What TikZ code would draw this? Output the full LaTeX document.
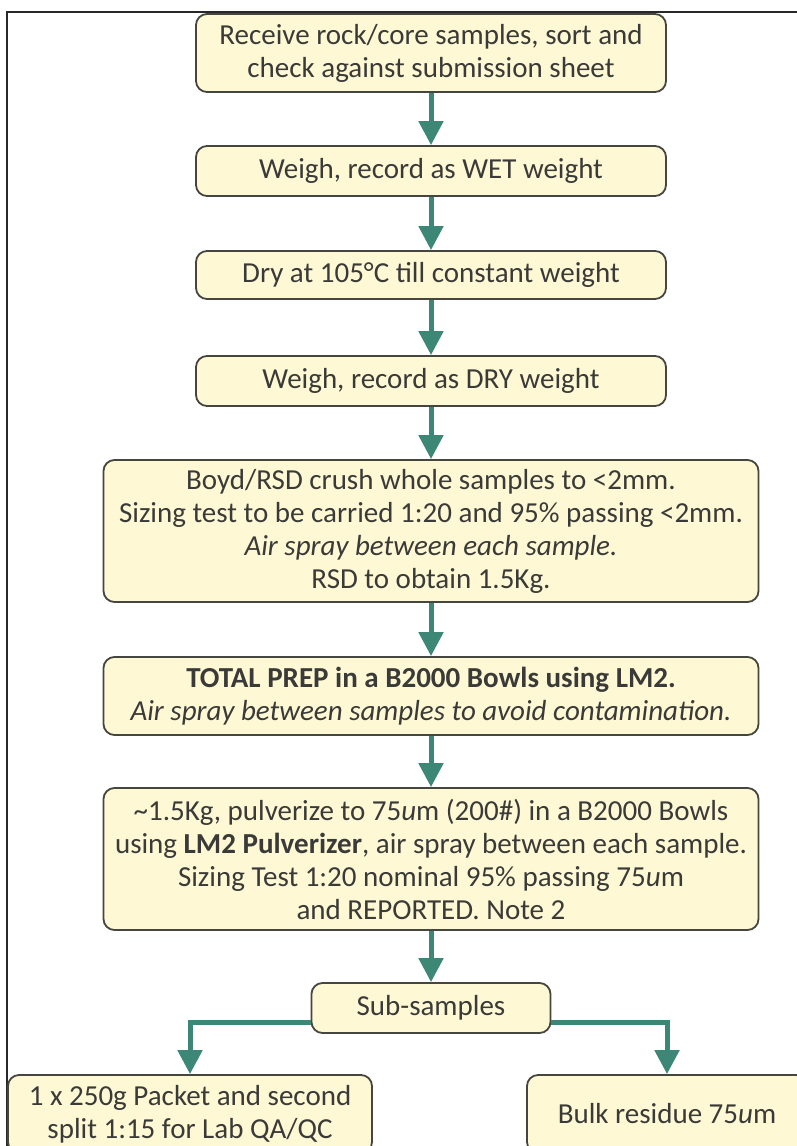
\documentclass[tikz,border=0pt]{standalone}
\usepackage{fontspec}
\setmainfont{Carlito}
\usetikzlibrary{arrows.meta}
\definecolor{boxfill}{RGB}{254,248,212}
\definecolor{boxline}{RGB}{70,70,64}
\definecolor{txtcol}{RGB}{58,58,56}
\definecolor{arrcol}{RGB}{60,135,118}
\definecolor{framecol}{RGB}{40,40,40}
\tikzset{
  stepbox/.style={draw=boxline, fill=boxfill, line width=1.8pt, rounded corners=11pt,
    align=center, inner sep=0pt, text=txtcol, font=\fontsize{29}{33}\selectfont},
  arr/.style={draw=arrcol, line width=5pt, -{Triangle[width=24pt,length=24pt]}},
  framestyle/.style={draw=framecol, line width=1.5pt}
}
\begin{document}
\begin{tikzpicture}[x=1pt,y=-1pt]
\clip (0,0) rectangle (797,1146);
\fill[white] (0,0) rectangle (797,1146);
\draw[framestyle] (7,1146) -- (7,12) -- (797,12);

\node[stepbox, minimum width=470pt, minimum height=78pt] (b1) at (431,53)
  {Receive rock/core samples, sort and\\check against submission sheet};
\node[stepbox, minimum width=470pt, minimum height=50pt] (b2) at (431,171)
  {Weigh, record as WET weight};
\node[stepbox, minimum width=470pt, minimum height=48pt] (b3) at (431,275)
  {Dry at 105°C till constant weight};
\node[stepbox, minimum width=470pt, minimum height=50pt] (b4) at (431,381)
  {Weigh, record as DRY weight};
\node[stepbox, minimum width=655pt, minimum height=142pt] (b5) at (431,531)
  {Boyd/RSD crush whole samples to <2mm.\\Sizing test to be carried 1:20 and 95\% passing <2mm.\\\textit{Air spray between each sample.}\\RSD to obtain 1.5Kg.};
\node[stepbox, minimum width=655pt, minimum height=78pt] (b6) at (431,696)
  {\textbf{TOTAL PREP in a B2000 Bowls using LM2.}\\\textit{Air spray between samples to avoid contamination.}};
\node[stepbox, minimum width=655pt, minimum height=142pt] (b7) at (431,859)
  {\textasciitilde1.5Kg, pulverize to 75\textit{u}m (200\#) in a B2000 Bowls\\using \textbf{LM2 Pulverizer}, air spray between each sample.\\Sizing Test 1:20 nominal 95\% passing 75\textit{u}m\\and REPORTED. Note 2};
\node[stepbox, minimum width=239pt, minimum height=50pt] (sub) at (431,1008)
  {Sub-samples};
\node[stepbox, minimum width=364pt, minimum height=78pt] (left) at (190,1114)
  {1 x 250g Packet and second\\split 1:15 for Lab QA/QC};
\node[stepbox, minimum width=280pt, minimum height=78pt] (right) at (667,1114)
  {Bulk residue 75\textit{u}m};

\draw[arr] (b1) -- (b2);
\draw[arr] (b2) -- (b3);
\draw[arr] (b3) -- (b4);
\draw[arr] (b4) -- (b5);
\draw[arr] (b5) -- (b6);
\draw[arr] (b6) -- (b7);
\draw[arr] (b7) -- (sub);
\draw[arr] ([yshift=-14pt]sub.west) -| (left.north);
\draw[arr] ([yshift=-14pt]sub.east) -| (right.north);
\end{tikzpicture}
\end{document}
